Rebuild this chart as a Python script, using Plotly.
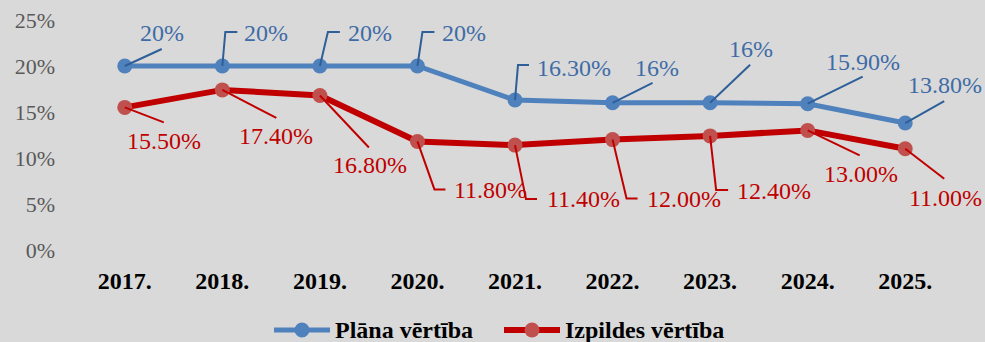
import plotly.graph_objects as go

# Years on the category axis
years = ["2017.", "2018.", "2019.", "2020.", "2021.", "2022.", "2023.", "2024.", "2025."]

# Planned value (share)
plan_values = [0.20, 0.20, 0.20, 0.20, 0.163, 0.16, 0.16, 0.159, 0.138]
plan_labels = ["20%", "20%", "20%", "20%", "16.30%", "16%", "16%", "15.90%", "13.80%"]

# Actual (execution) value (share)
actual_values = [0.155, 0.174, 0.168, 0.118, 0.114, 0.12, 0.124, 0.13, 0.11]
actual_labels = ["15.50%", "17.40%", "16.80%", "11.80%", "11.40%", "12.00%", "12.40%", "13.00%", "11.00%"]

series_names = ["Plāna vērtība", "Izpildes vērtība"]

W, H = 985, 342
M_L, M_R, M_T, M_B = 76, 31, 20, 92

BG = "#d9d9d9"
BLUE_LINE = "#4f81bd"
BLUE_TEXT = "#3f6ca6"
BLUE_LEADER = "#2f5f98"
RED_LINE = "#c00000"
RED_MARK = "#c0504d"
RED_TEXT = "#c00000"
FONT = "Liberation Serif, Times New Roman, serif"

# Category slots: one per year, centred in equal bands
slots = list(range(len(years)))

# Leader-line geometry in pixels relative to each point (dx right, dy up):
# path vertices, then label centre offset.
plan_leaders = [
    ([(37, 17)], (37, 33)),
    ([(3, 34), (15, 34)], (44, 33)),
    ([(8, 34), (20, 34)], (50, 33)),
    ([(5, 34), (17, 34)], (47, 33)),
    ([(3, 35), (14, 35)], (59, 32)),
    ([(40, 20)], (44, 35)),
    ([(40, 38)], (41, 54)),
    ([(55, 27)], (55, 42)),
    ([(39, 22)], (40, 38)),
]
actual_leaders = [
    ([(39, -15)], (39, -34)),
    ([(54, -28)], (54, -46)),
    ([(49, -52)], (50, -70)),
    ([(17, -48), (28, -48)], (73, -49)),
    ([(11, -54), (22, -54)], (68, -54)),
    ([(14, -59), (25, -59)], (71, -59)),
    ([(6, -54), (18, -54)], (64, -55)),
    ([(52, -25)], (53, -44)),
    ([(39, -30)], (40, -49)),
]

fig = go.Figure()

fig.add_trace(go.Scatter(
    x=slots, y=plan_values, name=series_names[0], mode="lines+markers",
    line=dict(color=BLUE_LINE, width=5),
    marker=dict(color=BLUE_LINE, size=15),
    hoverinfo="skip", showlegend=False,
))
fig.add_trace(go.Scatter(
    x=slots, y=actual_values, name=series_names[1], mode="lines+markers",
    line=dict(color=RED_LINE, width=6),
    marker=dict(color=RED_MARK, size=15),
    hoverinfo="skip", showlegend=False,
))


def add_labels(values, labels, leaders, line_color, text_color):
    for xi, val, txt, (verts, (lx, ly)) in zip(slots, values, labels, leaders):
        path = "M0,0 " + " ".join(f"L{dx},{dy}" for dx, dy in verts)
        fig.add_shape(
            type="path", path=path,
            xref="x", yref="y", xsizemode="pixel", ysizemode="pixel",
            xanchor=xi, yanchor=val,
            line=dict(color=line_color, width=2), layer="above",
        )
        fig.add_annotation(
            x=xi, y=val, text=txt, showarrow=False,
            xshift=lx, yshift=ly, xanchor="center", yanchor="middle",
            font=dict(family=FONT, size=24, color=text_color),
        )


add_labels(plan_values, plan_labels, plan_leaders, BLUE_LEADER, BLUE_TEXT)
add_labels(actual_values, actual_labels, actual_leaders, RED_LINE, RED_TEXT)


# Legend drawn by hand so the line sample can be wider than Plotly's default
def px_to_paper(px, py):
    pw = W - M_L - M_R
    ph = H - M_T - M_B
    return (px - M_L) / pw, (H - M_B - py) / ph


legend_items = [
    (series_names[0], BLUE_LINE, BLUE_LINE, 5, 274, 330),
    (series_names[1], RED_LINE, RED_MARK, 6, 504, 560),
]
LEG_Y = 330
for name, lcol, mcol, lw, x0, x1 in legend_items:
    ax, ay = px_to_paper(x0, LEG_Y)
    fig.add_shape(
        type="line", xref="paper", yref="paper",
        xsizemode="pixel", ysizemode="pixel", xanchor=ax, yanchor=ay,
        x0=0, x1=x1 - x0, y0=0, y1=0,
        line=dict(color=lcol, width=lw),
    )
    fig.add_shape(
        type="circle", xref="paper", yref="paper",
        xsizemode="pixel", ysizemode="pixel", xanchor=ax, yanchor=ay,
        x0=(x1 - x0) / 2 - 7.5, x1=(x1 - x0) / 2 + 7.5, y0=-7.5, y1=7.5,
        fillcolor=mcol, line=dict(width=0),
    )
    tx, ty = px_to_paper(x1 + 3, LEG_Y)
    fig.add_annotation(
        x=tx, y=ty, xref="paper", yref="paper", text=f"<b>{name}</b>",
        showarrow=False, xanchor="left", yanchor="middle",
        font=dict(family=FONT, size=24, color="#000000"),
    )

fig.update_layout(
    width=W, height=H,
    margin=dict(l=M_L, r=M_R, t=M_T, b=M_B),
    paper_bgcolor=BG, plot_bgcolor=BG,
    font=dict(family=FONT),
    showlegend=False,
)
fig.update_xaxes(
    range=[-0.5, len(years) - 0.5], tickvals=slots, ticktext=years,
    showgrid=False, zeroline=False, showline=False, automargin=False,
    ticks="", ticklabelstandoff=14,
    tickfont=dict(family=FONT, size=24, color="#000000", weight="bold"),
)
fig.update_yaxes(
    range=[0, 0.25], dtick=0.05, tickformat=".0%",
    showgrid=False, zeroline=False, showline=False, automargin=False,
    ticks="", ticklabelstandoff=20,
    tickfont=dict(family=FONT, size=22, color="#595959"),
)

fig.write_html("out.html")
